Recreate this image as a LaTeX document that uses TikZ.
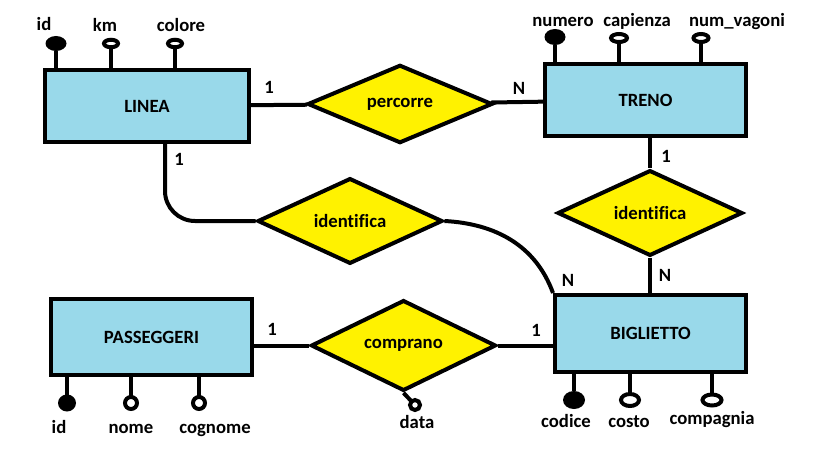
\documentclass[tikz,border=0pt]{standalone}
\usepackage{fontspec}
\setmainfont{Carlito}[Ligatures=NoCommon]
\usepackage{tikz}
\usetikzlibrary{calc,shapes.geometric}
\definecolor{boxblue}{HTML}{99D9EA}
\definecolor{relyellow}{HTML}{FFF200}
\newcommand{\erfont}{\fontsize{18.7pt}{22pt}\selectfont\bfseries}
\tikzset{
    entity/.style={draw, line width=4pt, fill=boxblue, rectangle, inner sep=0pt, font=\erfont},
    relation/.style={draw, line width=4pt, fill=relyellow, diamond, minimum width=185pt, minimum height=75pt, inner sep=0pt, font=\erfont},
    attr/.style={ellipse, draw, line width=4pt, fill=white, minimum width=14pt, minimum height=7.5pt, inner sep=0pt, outer sep=0pt},
    keyattr/.style={ellipse, fill=black, minimum width=21pt, minimum height=15pt, inner sep=0pt, outer sep=0pt},
    link/.style={line width=4pt},
    card/.style={font=\erfont, inner sep=0pt},
    every label/.style={font=\erfont, inner sep=0pt, text height=13pt, text depth=0pt},
}

\begin{document}
\begin{tikzpicture}[x=1pt,y=-1pt]
        \useasboundingbox (0,0) rectangle (819,460);
        \node[entity, minimum width=204pt, minimum height=72pt] (linea) at (147,106) {LINEA\hspace{20pt}};
        \node[entity, minimum width=201pt, minimum height=71pt] (treno) at (645.5,100) {TRENO};
        \node[entity, minimum width=201pt, minimum height=76pt] (passeggeri) at (151.5,337) {PASSEGGERI\hspace{12pt}};
        \node[entity, minimum width=191pt, minimum height=77pt] (bigl) at (650.5,333.5) {BIGLIETTO\hspace{10pt}};
        \node[relation] (percorre) at (400,104) {percorre};
        \node[relation] (identA) at (350,221) {identifica};
        \node[relation] (identB) at (650,213) {identifica};
        \node[relation] (comprano) at (403.5,345.5) {comprano};
        \node[keyattr, label={[xshift=-12pt,yshift=5pt]above:id}] (lid) at (56,43.5) {};
        \node[attr, label={[xshift=-6pt,yshift=8pt]above:km}] (lkm) at (111,43.5) {};
        \node[attr, label={[xshift=6pt,yshift=8pt]above:colore}] (lcol) at (175,43.5) {};
        \node[keyattr, minimum height=16pt, label={[xshift=8pt,yshift=2pt]above:numero}] (tnum) at (555,37) {};
        \node[attr, minimum width=16pt, minimum height=8pt, label={[xshift=18pt,yshift=7pt]above:capienza}] (tcap) at (619,38) {};
        \node[attr, minimum width=15pt, minimum height=8pt, label={[xshift=36pt,yshift=7pt]above:num\_vagoni}] (tvag) at (701,38) {};
        \node[keyattr, minimum width=18pt, minimum height=17pt, label={[xshift=-8pt,yshift=-8.5pt]below:id}] (pid) at (67,403) {};
        \node[attr, minimum width=12pt, minimum height=12pt, label={[yshift=-11pt]below:nome}] (pnome) at (131,403) {};
        \node[attr, minimum width=12pt, minimum height=12pt, label={[xshift=16pt,yshift=-11pt]below:cognome}] (pcog) at (199,403) {};
        \node[keyattr, minimum width=22pt, minimum height=18pt, label={[xshift=-8pt,yshift=-5pt]below:codice}] (bcod) at (574,400) {};
        \node[attr, minimum width=18pt, minimum height=12pt, label={[xshift=-1pt,yshift=-8pt]below:costo}] (bcos) at (630,400) {};
        \node[attr, minimum width=19pt, minimum height=11pt, label={[yshift=-5.5pt]below:compagnia}] (bcomp) at (712,400) {};
        \node[attr, minimum width=10pt, minimum height=10pt, label={[xshift=2pt,yshift=-5pt]below:data}] (cdata) at (415,405) {};
        \foreach \a/\b in {lid/linea, lkm/linea, lcol/linea, tnum/treno, tcap/treno, tvag/treno}
        \draw[link] (\a.south) -- (\a.south |- \b.north);
        \foreach \a/\b in {pid/passeggeri, pnome/passeggeri, pcog/passeggeri, bcod/bigl, bcos/bigl, bcomp/bigl}
        \draw[link] (\a.north) -- (\a.north |- \b.south);
        \draw[link] (linea) -- (percorre);
        \draw[link] (percorre) -- (treno);
        \draw[link] (treno.south -| identB) -- (identB.north);
        \draw[link] (identB.south) -- (identB.south |- bigl.north);
        \draw[link, rounded corners=30pt] ([xshift=18pt]linea.south) |- (identA.west);
        \draw[link] (identA.east) to[out=-3,in=110] (bigl.north west);
        \draw[link] (passeggeri.east |- comprano) -- (comprano.west);
        \draw[link] (comprano.east) -- (comprano.east -| bigl.west);
        \draw[link] (comprano.south) -- (cdata);
        \node[card] (c1) at (269,87.5) {1};
        \node[card] (c2) at (519,88) {N};
        \node[card] (c3) at (179,159) {1};
        \node[card] (c4) at (666,156) {1};
        \node[card] (c5) at (568,280) {N};
        \node[card] (c6) at (665,275) {N};
        \node[card] (c7) at (272,329) {1};
        \node[card] (c8) at (536,330) {1};
    \end{tikzpicture}
\end{document}
